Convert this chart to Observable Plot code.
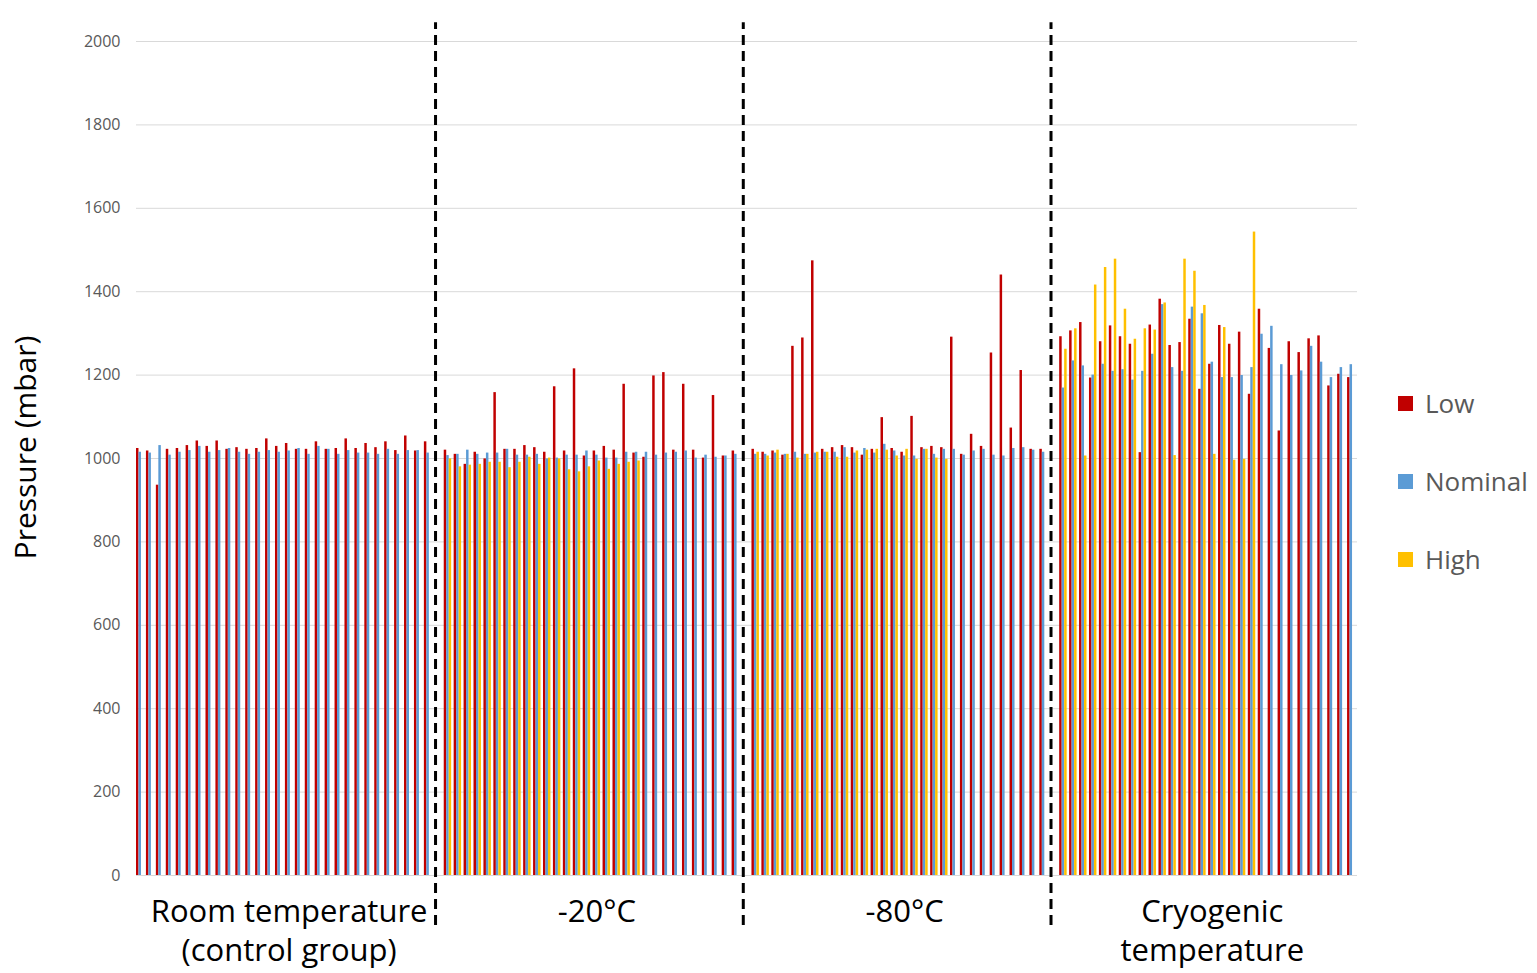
<!DOCTYPE html>
<html><head><meta charset="utf-8">
<script src="https://cdn.jsdelivr.net/npm/d3@7"></script>
<script src="https://cdn.jsdelivr.net/npm/@observablehq/plot@0.6"></script>
<style>
body{margin:0;background:#fff;font-family:"Open Sans",sans-serif;}
#wrap{position:relative;width:1537px;height:973px;overflow:hidden;}
#wrap svg{position:absolute;left:0;top:0;}
.item{position:absolute;left:1398px;display:flex;align-items:center;white-space:nowrap;font-size:26px;line-height:36px;color:#595959;}
.sw{width:15px;height:15px;margin-right:12px;}
</style></head><body><div id="wrap"></div>
<script>
// ---- data ----
const groups = ["Room temperature\n(control group)", "-20°C", "-80°C", "Cryogenic\ntemperature"];
const series = ["Low", "Nominal", "High"];
const colors = ["#C00000", "#5B9BD5", "#FFC000"];
const yTicks = [0, 200, 400, 600, 800, 1000, 1200, 1400, 1600, 1800, 2000];

const lowRoom = [1024,1018,936,1022,1024,1031,1042,1029,1042,1022,1026,1022,1024,1047,1029,1036,1022,1022,1040,1022,1024,1047,1024,1036,1026,1040,1019,1054,1018,1040];
const nomRoom = [1015,1013,1031,1008,1015,1019,1029,1015,1019,1024,1015,1010,1015,1019,1015,1018,1024,1010,1029,1022,1010,1019,1013,1013,1010,1022,1010,1019,1019,1013];
const highRoom = [null,null,null,null,null,null,null,null,null,null,null,null,null,null,null,null,null,null,null,null,null,null,null,null,null,null,null,null,null,null];

const low20 = [1020,1010,986,1015,999,1158,1022,1022,1031,1026,1015,1172,1018,1215,1006,1018,1029,1020,1178,1013,1003,1198,1206,1020,1178,1020,1001,1151,1006,1018];
const nom20 = [1007,1010,1020,1010,1013,1013,1022,1008,1008,1010,999,1001,1008,1008,1018,1008,1001,1001,1015,1015,1015,1008,1013,1015,1018,1001,1008,1003,1006,1010];
const high20 = [999,980,984,986,991,991,978,991,1003,986,1001,999,973,968,980,994,974,986,991,994,null,null,null,null,null,null,null,null,null,null];

const low80 = [1022,1015,1018,1008,1269,1289,1474,1022,1026,1031,1026,1008,1022,1098,1024,1015,1101,1026,1029,1026,1291,1010,1058,1029,1253,1440,1073,1211,1022,1022];
const nom80 = [1010,1010,1013,1010,1015,1010,1013,1015,1015,1026,1013,1024,1013,1034,1018,1006,1006,1022,1010,1022,1022,1008,1018,1022,1008,1006,1024,1026,1020,1015];
const high80 = [1015,1006,1020,1010,1001,1010,1015,1015,1003,1003,1018,1020,1022,1020,1006,1022,998,1022,1001,998,null,null,null,null,null,null,null,null,null,null];

const lowCryo = [1292,1306,1326,1193,1280,1318,1292,1274,1014,1320,1382,1271,1278,1334,1166,1226,1319,1274,1303,1154,1358,1264,1066,1280,1254,1287,1294,1174,1202,1194];
const nomCryo = [1169,1234,1222,1200,1226,1209,1213,1188,1209,1250,1369,1218,1209,1363,1347,1231,1194,1194,1199,1218,1298,1317,1225,1199,1210,1269,1231,1194,1218,1225];
const highCryo = [1262,1311,1006,1416,1458,1478,1358,1286,1311,1308,1373,1007,1478,1449,1367,1010,1314,996,998,1543,null,null,null,null,null,null,null,null,null,null];

// ---- build table ----
const lowAll = [lowRoom, low20, low80, lowCryo];
const nomAll = [nomRoom, nom20, nom80, nomCryo];
const highAll = [highRoom, high20, high80, highCryo];
const perGroup = lowRoom.length;          // categories per group
const stride = perGroup + 1;              // one empty slot between groups
const nSlots = groups.length * stride - 1;
const subs = ["Low", "Nominal", "High", "gap"];
const xDomain = [];
for (let s = 0; s < nSlots; s++) for (const k of subs) xDomain.push(s + "|" + k);

const rows = [];
groups.forEach((g, gi) => {
  for (let i = 0; i < perGroup; i++) {
    const slot = gi * stride + i;
    [lowAll, nomAll, highAll].forEach((arr, si) => {
      const v = arr[gi][i];
      if (v != null) rows.push({key: slot + "|" + series[si], series: series[si], value: v});
    });
  }
});
const separators = groups.slice(1).map((g, gi) => (gi * stride + perGroup) + "|Low");
const labelRows = groups.map((g, gi) => ({key: (gi * stride + Math.floor(perGroup / 2)) + "|Nominal", text: g}));

const chart = Plot.plot({
  width: 1537, height: 973,
  marginLeft: 136, marginRight: 180, marginTop: 41, marginBottom: 98,
  style: {fontFamily: "'Open Sans', sans-serif", background: "transparent", overflow: "visible"},
  x: {type: "band", domain: xDomain, padding: 0, axis: null},
  y: {domain: [0, 2000], axis: null},
  color: {domain: series, range: colors},
  marks: [
    Plot.ruleY(yTicks, {y: d => d, stroke: "#D9D9D9", strokeWidth: 1}),
    Plot.axisY({ticks: yTicks, tickFormat: d => String(d), tickSize: 0, tickPadding: 16, fontSize: 16, color: "#595959", label: null}),
    Plot.barY(rows, {x: "key", y: "value", fill: "series"}),
    Plot.ruleX(separators, {x: d => d, y1: -120, y2: 2045, stroke: "#000", strokeWidth: 3, strokeDasharray: "10,6"}),
    Plot.text(labelRows, {x: "key", frameAnchor: "bottom", dy: 19, lineAnchor: "top", text: "text", fontSize: 31, lineHeight: 1.26, fill: "#000"}),
    Plot.text(["Pressure (mbar)"], {frameAnchor: "left", textAnchor: "middle", dx: -110, dy: -11, rotate: -90, text: d => d, fontSize: 30, fill: "#000"})
  ]
});
const wrap = document.getElementById("wrap");
wrap.appendChild(chart);

const centers = [403, 481, 559];
series.forEach((s, i) => {
  const it = document.createElement("div");
  it.className = "item";
  it.style.top = (centers[i] - 18) + "px";
  it.innerHTML = `<span class="sw" style="background:${colors[i]}"></span><span>${s}</span>`;
  wrap.appendChild(it);
});
</script>
</body></html>
